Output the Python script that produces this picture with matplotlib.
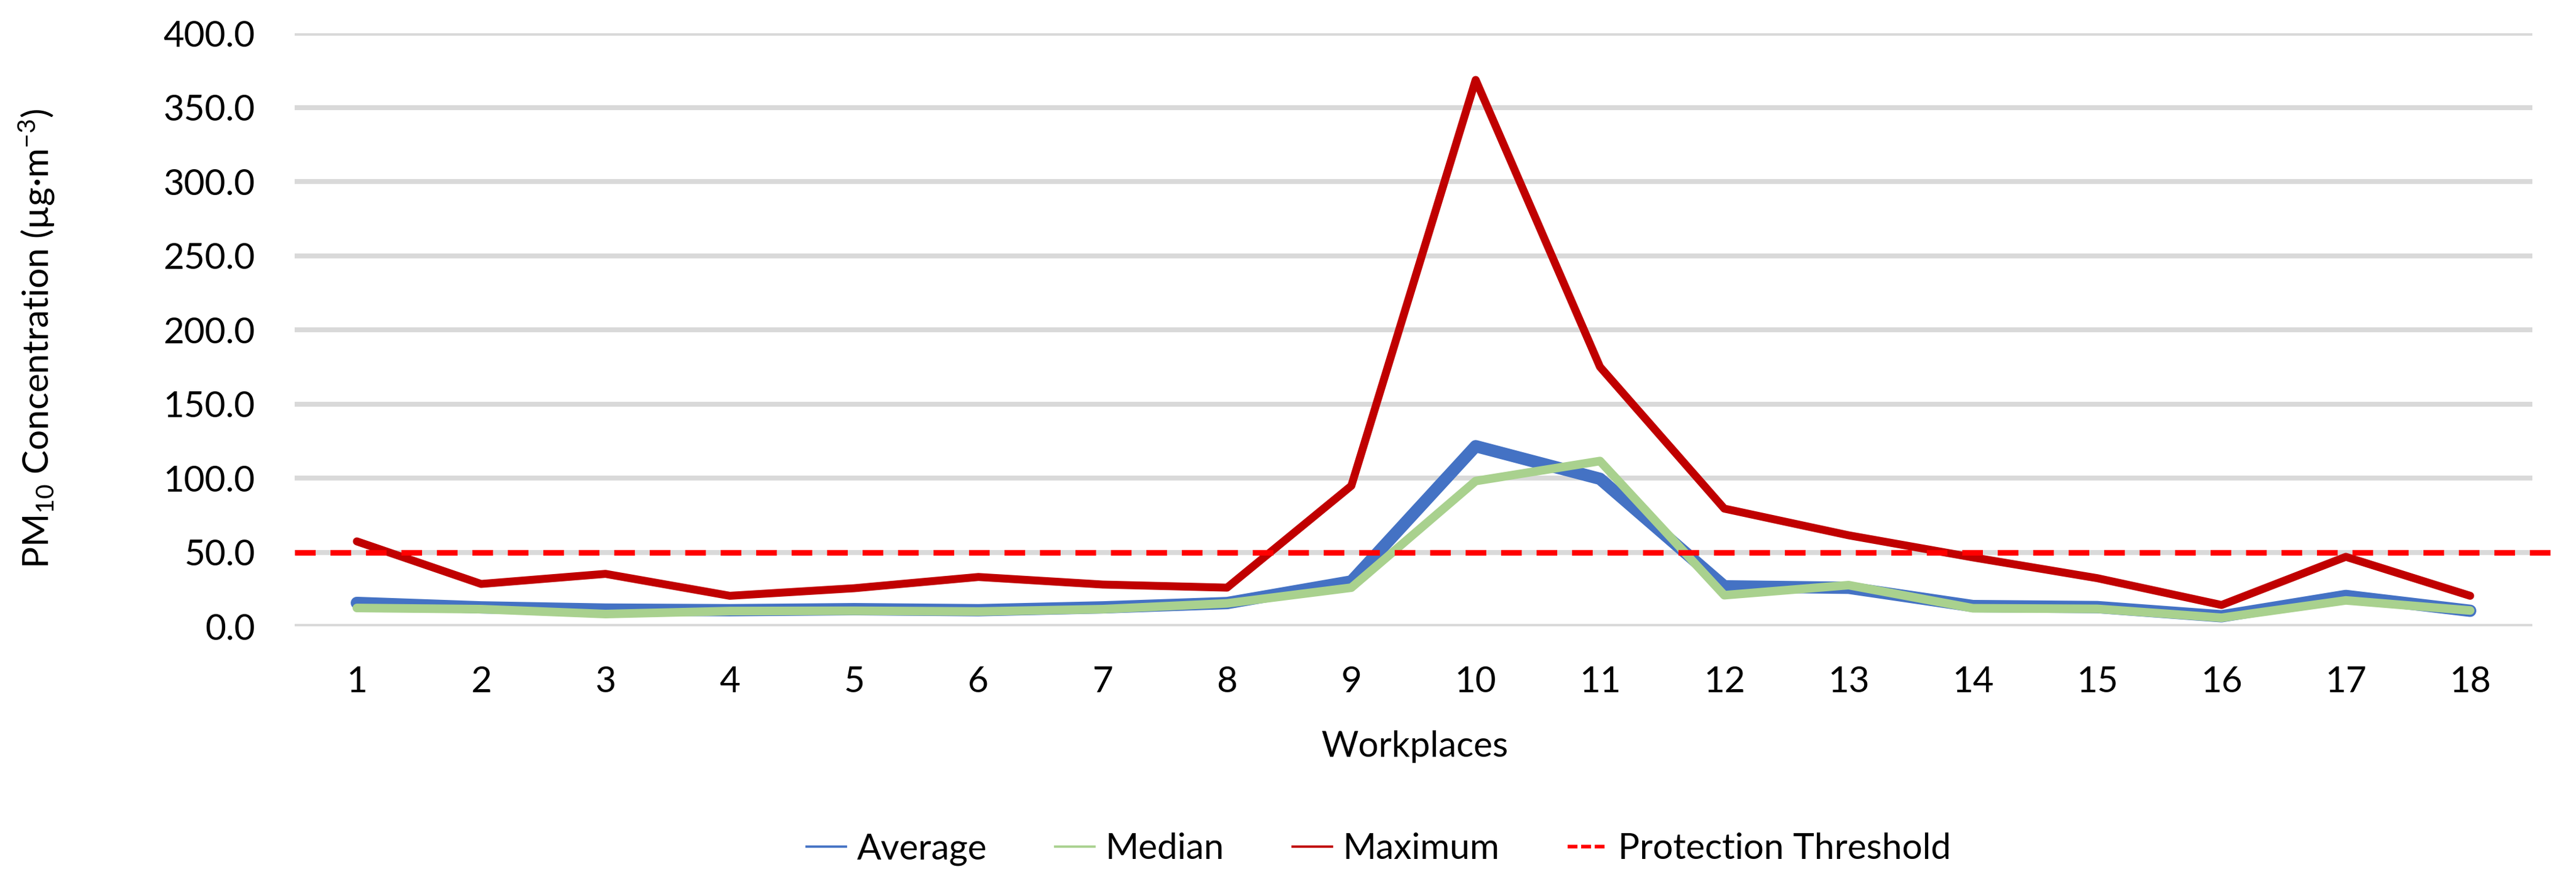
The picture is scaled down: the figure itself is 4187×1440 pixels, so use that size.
import matplotlib
matplotlib.use("Agg")
import matplotlib.pyplot as plt
from matplotlib.lines import Line2D
from matplotlib.ticker import FormatStrFormatter

plt.rcParams['font.family'] = ['Lato', 'DejaVu Sans']
plt.rcParams['mathtext.fontset'] = 'custom'
plt.rcParams['mathtext.rm'] = 'Lato'
plt.rcParams['mathtext.it'] = 'Lato:italic'
plt.rcParams['mathtext.bf'] = 'Lato:bold'

# ---- data ----
workplaces = list(range(1, 19))
average = [15.8, 12.8, 11.3, 10.9, 11.6, 10.9, 12.8, 15.7, 30.3, 121.5,
           99.5, 27.0, 26.0, 13.7, 13.0, 6.8, 20.5, 10.5]
median = [12.4, 11.6, 8.3, 10.3, 10.5, 10.0, 11.6, 15.5, 26.1, 98.0,
          111.5, 21.0, 27.8, 12.2, 11.8, 5.8, 17.5, 10.7]
maximum = [57.3, 28.6, 35.4, 20.6, 25.7, 33.3, 28.2, 26.1, 94.8, 368.5,
           175.0, 79.4, 61.4, 46.5, 32.5, 14.4, 46.9, 20.6]
threshold = 50.0
y_ticks = [0, 50, 100, 150, 200, 250, 300, 350, 400]

# ---- figure ----
W, H, DPI = 4187, 1440, 300
fig = plt.figure(figsize=(W / DPI, H / DPI), dpi=DPI)
ax = fig.add_axes([479 / W, 1 - 1018 / H, (4116 - 479) / W, (1018 - 54) / H])

BLUE, GREEN, DRED, RED, GRID = '#4472C4', '#A9D18E', '#C00000', '#FF0000', '#D9D9D9'

ax.plot(workplaces, average, color=BLUE, lw=4.8, solid_capstyle='round',
        solid_joinstyle='round', zorder=3)
ax.plot(workplaces, median, color=GREEN, lw=3.36, solid_capstyle='round',
        solid_joinstyle='round', zorder=4)
ax.plot(workplaces, maximum, color=DRED, lw=3.1, solid_capstyle='round',
        solid_joinstyle='round', zorder=5)
ax.axhline(threshold, xmin=0, xmax=1.011, color=RED, lw=2.2,
           dashes=(3.66, 2.63), clip_on=False, zorder=6)

ax.set_xlim(0.5, 18.5)
ax.set_ylim(0, 400)
ax.set_yticks(y_ticks)
ax.set_xticks(workplaces)
ax.yaxis.set_major_formatter(FormatStrFormatter('%.1f'))
ax.grid(axis='y', color=GRID, lw=1.9, zorder=1)
ax.grid(axis='x', visible=False)
for s in ax.spines.values():
    s.set_visible(False)
ax.tick_params(length=0, pad=15.4, labelsize=14, colors='black')

fig.text(60 / W, 1 - 550 / H,
         r'PM$_{\mathregular{10}}$ Concentration (µg·m$^{\mathregular{-3}}$)',
         rotation=90, ha='center', va='center', fontsize=14)
fig.text(2299 / W, 1 - 1230 / H, 'Workplaces', ha='center', va='baseline',
         fontsize=14)

handles = [
    Line2D([], [], color=BLUE, lw=0.9),
    Line2D([], [], color=GREEN, lw=0.9),
    Line2D([], [], color=DRED, lw=0.9),
    Line2D([], [], color=RED, lw=1.44, dashes=(2.67, 1.0)),
]
labels = ['Average', 'Median', 'Maximum', 'Protection Threshold']
fig.legend(handles, labels, loc='center', bbox_to_anchor=(2241 / W, 1 - 1380 / H),
           ncol=4, frameon=False, fontsize=14, handlelength=1.1,
           handletextpad=0.3, columnspacing=1.9, borderaxespad=0, borderpad=0)

fig.savefig('out.png', dpi=DPI, facecolor='white')
